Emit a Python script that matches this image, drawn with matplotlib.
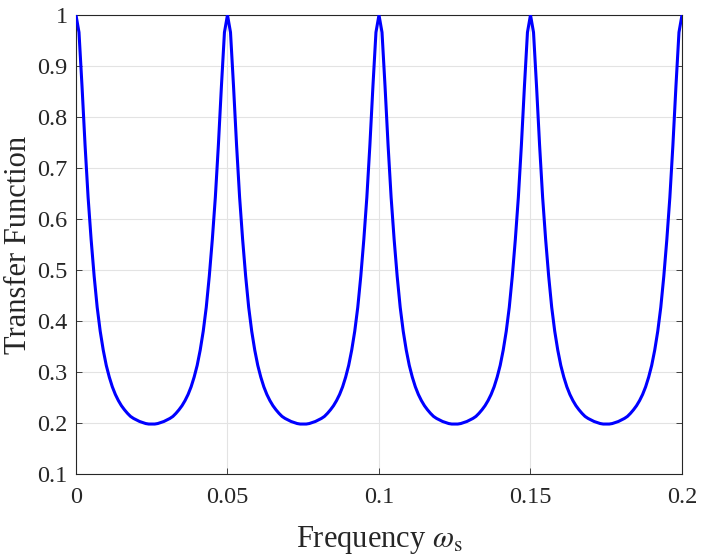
import numpy as np
import matplotlib
matplotlib.use('Agg')
import matplotlib.pyplot as plt

#-------------------------------
# data (one sample every 0.001)

freq = np.linspace(0, 0.2, 201)

transfer = [
    1.000, 0.966, 0.860, 0.745, 0.643, 0.560, 0.488, 0.427, 0.380, 0.343,
    0.313, 0.290, 0.271, 0.256, 0.244, 0.234, 0.226, 0.219, 0.213, 0.209,
    0.206, 0.203, 0.201, 0.199, 0.198, 0.198, 0.198, 0.199, 0.201, 0.203,
    0.206, 0.209, 0.213, 0.219, 0.226, 0.234, 0.244, 0.256, 0.271, 0.290,
    0.313, 0.343, 0.380, 0.427, 0.488, 0.560, 0.643, 0.745, 0.860, 0.966,
    1.000, 0.966, 0.860, 0.745, 0.643, 0.560, 0.488, 0.427, 0.380, 0.343,
    0.313, 0.290, 0.271, 0.256, 0.244, 0.234, 0.226, 0.219, 0.213, 0.209,
    0.206, 0.203, 0.201, 0.199, 0.198, 0.198, 0.198, 0.199, 0.201, 0.203,
    0.206, 0.209, 0.213, 0.219, 0.226, 0.234, 0.244, 0.256, 0.271, 0.290,
    0.313, 0.343, 0.380, 0.427, 0.488, 0.560, 0.643, 0.745, 0.860, 0.966,
    1.000, 0.966, 0.860, 0.745, 0.643, 0.560, 0.488, 0.427, 0.380, 0.343,
    0.313, 0.290, 0.271, 0.256, 0.244, 0.234, 0.226, 0.219, 0.213, 0.209,
    0.206, 0.203, 0.201, 0.199, 0.198, 0.198, 0.198, 0.199, 0.201, 0.203,
    0.206, 0.209, 0.213, 0.219, 0.226, 0.234, 0.244, 0.256, 0.271, 0.290,
    0.313, 0.343, 0.380, 0.427, 0.488, 0.560, 0.643, 0.745, 0.860, 0.966,
    1.000, 0.966, 0.860, 0.745, 0.643, 0.560, 0.488, 0.427, 0.380, 0.343,
    0.313, 0.290, 0.271, 0.256, 0.244, 0.234, 0.226, 0.219, 0.213, 0.209,
    0.206, 0.203, 0.201, 0.199, 0.198, 0.198, 0.198, 0.199, 0.201, 0.203,
    0.206, 0.209, 0.213, 0.219, 0.226, 0.234, 0.244, 0.256, 0.271, 0.290,
    0.313, 0.343, 0.380, 0.427, 0.488, 0.560, 0.643, 0.745, 0.860, 0.966,
    1.000,
]

xticks = [0, 0.05, 0.1, 0.15, 0.2]
xtick_labels = ['0', '0.05', '0.1', '0.15', '0.2']
yticks = [0.1, 0.2, 0.3, 0.4, 0.5, 0.6, 0.7, 0.8, 0.9, 1.0]
ytick_labels = ['0.1', '0.2', '0.3', '0.4', '0.5', '0.6', '0.7', '0.8', '0.9', '1']

#-------------------------------
# style (MATLAB-like look)

plt.rcParams['font.family'] = ['Liberation Serif', 'DejaVu Serif']
plt.rcParams['mathtext.fontset'] = 'stix'

fig = plt.figure(figsize=(7.06, 5.58), dpi=100)
ax = fig.add_axes([0.1076, 0.1505, 0.8584, 0.8226])

ax.plot(freq, transfer, color=(0, 0, 1), linewidth=2.2, zorder=3)

ax.set_xlim(0, 0.2)
ax.set_ylim(0.1, 1.0)
ax.set_xticks(xticks)
ax.set_xticklabels(xtick_labels)
ax.set_yticks(yticks)
ax.set_yticklabels(ytick_labels)

ax.grid(True, color='#e3e3e3', linewidth=0.8)
ax.set_axisbelow(True)
for sp in ax.spines.values():
    sp.set_color('#262626')
    sp.set_linewidth(0.8)
ax.tick_params(direction='in', length=4, width=0.6, colors='#262626',
               labelsize=17.5, top=True, right=True)
ax.tick_params(axis='x', pad=9)
ax.tick_params(axis='y', pad=6)

ax.set_xlabel(r'Frequency $\omega_{\rm s}$', fontsize=22, color='#262626', labelpad=12)
ax.set_ylabel('Transfer Function', fontsize=22, color='#262626', labelpad=3)

plt.savefig('out.png', dpi=100)
